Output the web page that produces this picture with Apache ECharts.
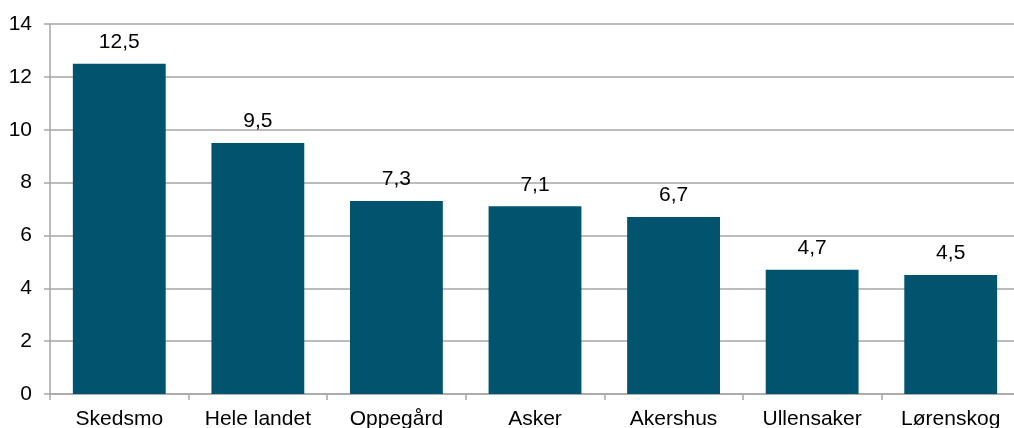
<!DOCTYPE html>
<html>
<head>
<meta charset="utf-8">
<script src="https://cdn.jsdelivr.net/npm/echarts@6/dist/echarts.min.js"></script>
<style>
  html, body { margin: 0; padding: 0; background: #fff; }
  #chart { width: 1014px; height: 428px; }
</style>
</head>
<body>
<div id="chart"></div>
<script>
const categories = ['Skedsmo', 'Hele landet', 'Oppegård', 'Asker', 'Akershus', 'Ullensaker', 'Lørenskog'];
const values = [12.5, 9.5, 7.3, 7.1, 6.7, 4.7, 4.5];
const yTicks = { min: 0, max: 14, interval: 2 };

const font = 'Liberation Sans, Arial, sans-serif';
const gridColor = '#A6A6A6';

const chart = echarts.init(document.getElementById('chart'), null, { renderer: 'canvas' });
chart.setOption({
  animation: false,
  // the plot runs a little past the right edge of the canvas
  grid: { left: 50, top: 24, width: 970, bottom: 34, containLabel: false, outerBoundsMode: 'none' },
  xAxis: {
    type: 'category',
    data: categories,
    axisLine: { lineStyle: { color: gridColor, width: 1.5 } },
    axisTick: { show: true, length: 6, alignWithLabel: false, lineStyle: { color: gridColor, width: 1.5 } },
    axisLabel: { color: '#000', fontFamily: font, fontSize: 21, margin: 15, interval: 0, hideOverlap: false }
  },
  yAxis: {
    type: 'value',
    min: yTicks.min, max: yTicks.max, interval: yTicks.interval,
    axisLine: { show: true, lineStyle: { color: gridColor, width: 1.5 } },
    axisTick: { show: true, length: 6, lineStyle: { color: gridColor, width: 1.5 } },
    splitLine: { lineStyle: { color: gridColor, width: 1.5 } },
    axisLabel: { color: '#000', fontFamily: font, fontSize: 21, margin: 18 }
  },
  series: [{
    type: 'bar',
    data: values,
    barWidth: '67%',
    itemStyle: { color: '#02546E' },
    label: {
      show: true,
      position: 'top',
      distance: 11,
      color: '#000',
      fontFamily: font,
      fontSize: 21,
      formatter: p => String(p.value).replace('.', ',')
    }
  }]
});
</script>
</body>
</html>
